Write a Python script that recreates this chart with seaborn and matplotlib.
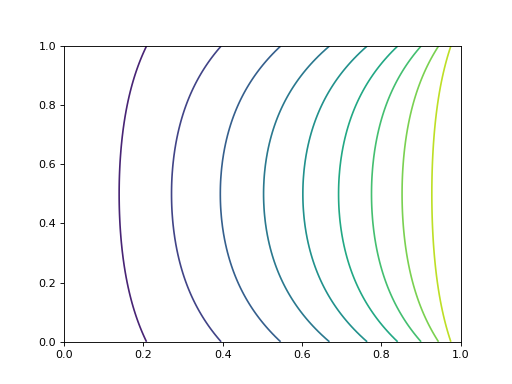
import numpy as np
import matplotlib
matplotlib.use("Agg")
import matplotlib.pyplot as plt
import seaborn as sns

# Contour levels and where each line crosses the middle (y = 0.5)
# and the top/bottom edges (y = 0 and y = 1)
levels = [0.1, 0.2, 0.3, 0.4, 0.5, 0.6, 0.7, 0.8, 0.9]
mid_crossings = [0.139, 0.271, 0.394, 0.503, 0.602, 0.692, 0.775, 0.852, 0.927]
edge_crossings = [0.208, 0.396, 0.546, 0.669, 0.764, 0.841, 0.900, 0.944, 0.975]

x_ticks = [0.0, 0.2, 0.4, 0.6, 0.8, 1.0]
y_ticks = [0.0, 0.2, 0.4, 0.6, 0.8, 1.0]

# Build the scalar field: along every row the field reaches each level at
# mid + (edge - mid) * bend(y), with a smooth bend profile (0 mid, 1 edges)
n = 400
xs = np.linspace(0, 1, n)
ys = np.linspace(0, 1, n)
mid = np.array(mid_crossings)
edge = np.array(edge_crossings)
lev = np.array(levels)
bend = (np.cosh(4 * (ys - 0.5)) - 1) / (np.cosh(2.0) - 1)
Z = np.empty((n, n))
for i, b in enumerate(bend):
    pos = mid + (edge - mid) * b
    Z[i] = np.interp(xs, np.r_[0.0, pos, 1.0], np.r_[0.0, lev, 1.0])
X, Y = np.meshgrid(xs, ys)

cmap = sns.color_palette("viridis", as_cmap=True)

fig, ax = plt.subplots(figsize=(6.4, 4.8), dpi=80)
ax.contour(X, Y, Z, levels=levels, cmap=cmap, vmin=0.0, vmax=1.0,
           linewidths=1.5)
ax.set_xlim(0, 1)
ax.set_ylim(0, 1)
ax.set_xticks(x_ticks)
ax.set_yticks(y_ticks)
fig.savefig("out.png", dpi=80)
